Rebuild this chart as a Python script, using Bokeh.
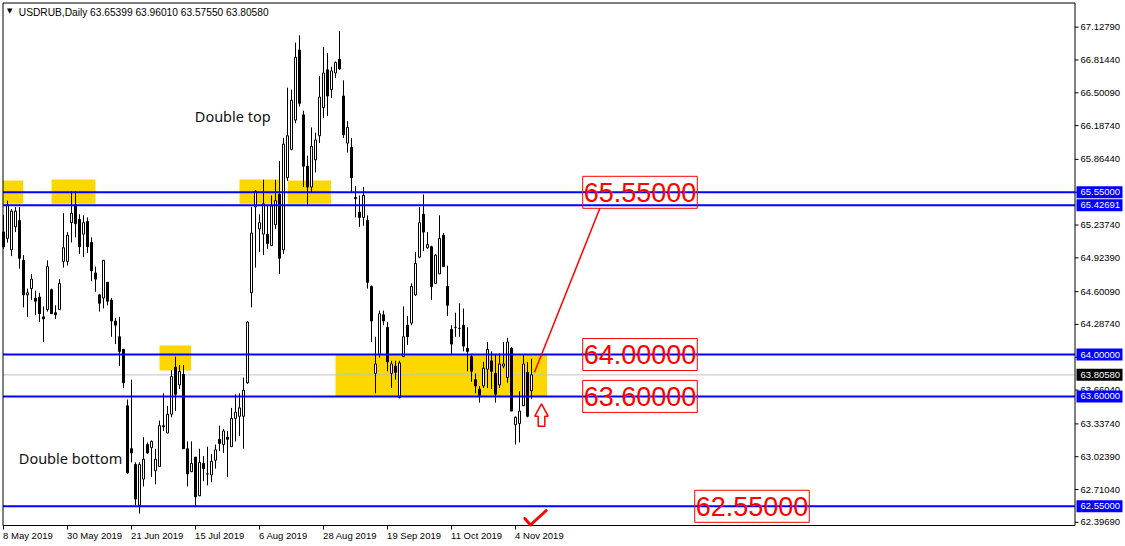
from bokeh.plotting import figure
from bokeh.models import ColumnDataSource, Range1d
from bokeh.core.properties import value
from bokeh.embed import file_html
from bokeh.resources import INLINE

# ---------------- data ----------------
symbol = "USDRUB,Daily"
last_ohlc = [63.65399, 63.96010, 63.57550, 63.80580]

opens = [65.17, 65.11, 65.00, 65.22, 65.28, 64.90, 64.57, 64.63, 64.54, 64.55,
         64.36, 64.43, 64.62, 64.40, 64.43, 64.89, 64.89, 65.26, 65.43, 65.29,
         65.15, 65.27, 65.07, 64.78, 64.57, 64.54, 64.69, 64.52, 64.32, 64.17,
         64.05, 63.51, 63.10, 62.95, 62.56, 62.81, 63.14, 63.11, 62.89, 62.93,
         63.32, 63.25, 63.43, 63.88, 63.71, 63.81, 63.10, 62.88, 63.02, 62.65,
         62.96, 62.86, 62.85, 62.99, 63.19, 63.14, 63.21, 63.12, 63.39, 63.41,
         63.41, 63.73, 64.59, 65.41, 65.20, 65.15, 65.15, 65.04, 65.24, 65.53,
         65.00, 65.69, 65.96, 66.24, 66.91, 66.29, 65.80, 65.60, 65.86, 66.09,
         66.36, 66.72, 66.53, 66.69, 66.82, 66.47, 66.02, 65.98, 65.50, 65.36,
         65.31, 65.28, 64.65, 63.82, 64.00, 64.38, 64.26, 63.82, 63.89, 63.59,
         63.98, 64.28, 64.30, 64.57, 64.93, 65.34, 65.02, 65.03, 64.68, 64.77,
         65.14, 64.65, 64.24, 64.26, 64.25, 64.28, 64.06, 63.98, 63.76, 63.67,
         63.70, 63.86, 63.94, 63.82, 63.71, 63.89, 63.78, 64.06, 63.33, 63.34,
         63.51, 63.83, 63.654]
highs = [65.33, 65.47, 65.39, 65.41, 65.41, 64.95, 64.63, 64.77, 64.61, 64.59,
         64.46, 64.90, 64.63, 64.47, 64.72, 65.35, 65.17, 65.56, 65.56, 65.34,
         65.33, 65.31, 65.12, 64.84, 64.58, 64.90, 64.69, 64.54, 64.35, 64.36,
         64.05, 63.57, 63.76, 62.97, 62.97, 63.21, 63.16, 63.18, 63.10, 63.37,
         63.63, 63.51, 63.85, 63.98, 63.90, 63.90, 63.17, 63.17, 63.02, 63.10,
         63.03, 63.12, 63.05, 63.14, 63.32, 63.29, 63.27, 63.49, 63.62, 63.63,
         63.78, 64.32, 65.41, 65.57, 65.34, 65.67, 65.42, 65.52, 65.67, 65.85,
         66.07, 66.55, 66.53, 66.98, 67.05, 66.33, 65.90, 66.17, 66.12, 66.66,
         66.94, 66.88, 66.75, 66.80, 67.09, 66.62, 66.23, 66.07, 65.61, 65.52,
         65.60, 65.33, 64.66, 64.17, 64.42, 64.42, 64.31, 63.94, 63.94, 63.94,
         64.46, 64.37, 64.68, 64.98, 65.41, 65.53, 65.17, 65.04, 64.96, 65.33,
         65.16, 64.85, 64.28, 64.40, 64.49, 64.44, 64.26, 64.00, 63.82, 63.70,
         63.93, 64.12, 64.03, 64.00, 64.01, 64.12, 64.16, 64.07, 63.41, 63.65,
         64.00, 63.93, 63.960]
lows = [65.01, 65.07, 64.94, 65.17, 64.82, 64.45, 64.36, 64.52, 64.38, 64.31,
        64.12, 64.41, 64.39, 64.34, 64.43, 64.83, 64.85, 65.07, 65.12, 64.96,
        64.93, 64.97, 64.70, 64.60, 64.41, 64.44, 64.47, 64.17, 64.10, 63.89,
        63.68, 62.86, 62.97, 62.56, 62.48, 62.74, 63.05, 62.83, 62.76, 62.93,
        63.27, 63.25, 63.40, 63.46, 63.67, 63.10, 62.74, 62.88, 62.55, 62.65,
        62.79, 62.75, 62.78, 62.91, 63.08, 63.06, 62.83, 63.12, 63.17, 63.22,
        63.10, 63.72, 64.45, 64.83, 64.98, 64.95, 65.01, 65.04, 65.20, 64.77,
        64.96, 65.66, 65.95, 66.21, 66.37, 65.60, 65.42, 65.55, 65.74, 66.02,
        66.26, 66.28, 66.45, 66.64, 66.72, 66.07, 65.93, 65.55, 65.31, 65.22,
        65.23, 64.63, 64.12, 63.63, 63.97, 64.28, 63.84, 63.68, 63.76, 63.58,
        63.98, 64.09, 64.28, 64.56, 64.92, 64.99, 65.01, 64.52, 64.68, 64.77,
        64.84, 64.37, 64.00, 64.17, 64.17, 64.03, 63.84, 63.74, 63.63, 63.54,
        63.68, 63.68, 63.67, 63.54, 63.68, 63.87, 63.73, 63.46, 63.14, 63.16,
        63.51, 63.40, 63.576]
closes = [65.03, 65.43, 65.37, 65.37, 64.92, 64.57, 64.59, 64.72, 64.51, 64.39,
          64.34, 64.84, 64.39, 64.38, 64.68, 65.02, 65.14, 65.35, 65.25, 65.03,
          65.26, 65.03, 64.80, 64.72, 64.49, 64.90, 64.51, 64.32, 64.28, 64.03,
          63.73, 62.87, 63.06, 62.62, 62.95, 63.00, 63.06, 63.17, 63.00, 63.32,
          63.31, 63.43, 63.79, 63.62, 63.84, 63.10, 62.86, 62.96, 62.64, 62.97,
          62.91, 62.86, 62.98, 63.09, 63.15, 63.27, 63.19, 63.39, 63.45, 63.49,
          63.66, 64.31, 65.16, 65.56, 65.26, 65.44, 65.06, 65.42, 65.47, 64.92,
          66.01, 66.09, 66.43, 66.84, 66.40, 65.80, 65.60, 65.99, 66.05, 66.46,
          66.69, 66.47, 66.71, 66.79, 66.73, 66.10, 66.17, 65.69, 65.49, 65.31,
          65.52, 64.69, 64.32, 63.91, 64.39, 64.32, 63.93, 63.91, 63.83, 63.92,
          64.17, 64.17, 64.65, 64.87, 65.26, 65.17, 65.05, 64.65, 64.95, 65.11,
          64.84, 64.47, 64.10, 64.26, 64.25, 64.08, 64.03, 63.84, 63.70, 63.61,
          63.87, 64.05, 63.84, 63.62, 63.91, 63.91, 64.12, 63.46, 63.40, 63.46,
          63.91, 63.41, 63.806]

date_ticks = [0, 16, 32, 48, 64, 80, 96, 112, 128]
date_labels = ["8 May 2019", "30 May 2019", "21 Jun 2019", "15 Jul 2019",
               "6 Aug 2019", "28 Aug 2019", "19 Sep 2019", "11 Oct 2019", "4 Nov 2019"]

price_ticks = [67.1279, 66.8144, 66.5009, 66.1874, 65.8644, 65.5509, 65.2374,
               64.9239, 64.6009, 64.2874, 63.9739, 63.6604, 63.3374, 63.0239,
               62.7104, 62.3969]

levels = [65.55, 65.42691, 64.00, 63.60, 62.55]
current_price = last_ohlc[3]

# highlighted zones: first bar, last bar, low price, high price
zone_start = [-0.2, 12.0, 59.0, 71.1, 39.0, 83.0]
zone_end = [4.93, 23.0, 69.25, 81.9, 46.9, 135.9]
zone_low = [65.44, 65.44, 65.44, 65.44, 63.848, 63.60]
zone_high = [65.663, 65.672, 65.672, 65.663, 64.086, 64.00]

callout_levels = [65.55, 64.00, 63.60, 62.55]
callout_start = [144.8, 144.8, 144.8, 172.8]

# ---------------- layout helpers (page pixels -> data) ----------------
W, H = 1125, 546
def bx(px):           # horizontal pixel -> bar index
    return (px - 3.0) / 4.0
def pr(py):           # vertical pixel -> price
    return 65.55 - (py - 191.8) / 104.67

FONT = "Liberation Sans"
p = figure(width=W, height=H, x_range=Range1d(bx(0), bx(W)), y_range=Range1d(pr(H), pr(0)),
           output_backend="svg", toolbar_location=None,
           x_axis_location=None, y_axis_location=None,
           min_border_left=0, min_border_top=0, min_border_right=0, min_border_bottom=0)
p.grid.visible = False
p.outline_line_color = None
p.background_fill_color = "white"
p.border_fill_color = "white"

L_, R_, T_, B_ = bx(2.5), bx(1074.5), pr(2.5), pr(525.0)

# zones
p.quad(left=zone_start, right=zone_end, bottom=zone_low, top=zone_high,
       fill_color="#FFD700", line_color=None)

# current price line
p.segment(x0=[L_], x1=[R_], y0=[current_price], y1=[current_price],
          line_color="#C0C0C0", line_width=1)

# candles
idx = list(range(len(opens)))
src = ColumnDataSource(dict(
    x=idx, o=opens, h=highs, l=lows, c=closes,
    top=[max(o, c) for o, c in zip(opens, closes)],
    bottom=[min(o, c) for o, c in zip(opens, closes)],
    fill=["white" if c >= o else "black" for o, c in zip(opens, closes)],
))
p.segment(x0="x", y0="l", x1="x", y1="h", source=src, line_color="black", line_width=1)
p.vbar(x="x", width=0.5, top="top", bottom="bottom", fill_color="fill",
       line_color="black", line_width=1, source=src)

# level lines
p.segment(x0=[L_] * len(levels), x1=[R_] * len(levels), y0=levels, y1=levels,
          line_color="#0000FF", line_width=2)

# chart frame and axes lines
p.line(x=[R_, L_, L_, R_, R_], y=[T_, T_, B_, B_, T_], line_color="black", line_width=1)

# callout boxes
half_h = 16 / 104.67
box_w = 28.65
p.quad(left=callout_start, right=[s + box_w for s in callout_start],
       bottom=[v - half_h for v in callout_levels], top=[v + half_h for v in callout_levels],
       fill_color=None, line_color="red", line_width=1)
p.text(x=[s + box_w / 2 for s in callout_start], y=callout_levels,
       text=[f"{v:.5f}" for v in callout_levels], text_align="center", text_baseline="middle",
       text_color="red", text_font=value(FONT), text_font_size="27px")

# projection line from last candle to target box
last = len(closes) - 1
p.line(x=[last + 0.75, 149.1], y=[closes[-1] + 0.025, callout_levels[0] - half_h],
       line_color="red", line_width=1.5)

# up arrow
cx, tip, base, bot = 134.5, 63.529, 63.411, 63.315
hw, sw = 1.67, 0.83
p.patch(x=[cx, cx + hw, cx + sw, cx + sw, cx - sw, cx - sw, cx - hw],
        y=[tip, base, base, bot, bot, base, base],
        fill_color="white", line_color="red", line_width=1.5)

# check mark
p.line(x=[bx(524.3), bx(530.0), bx(545.7)], y=[pr(518.0), pr(524.5), pr(510.0)],
       line_color="red", line_width=3, line_join="round", line_cap="round")

# pattern labels
p.text(x=[bx(194.3), bx(18.3)], y=[pr(115.0), pr(457.5)], text=["Double top", "Double bottom"],
       text_align="left", text_baseline="alphabetic", text_color="#111111",
       text_font=value("Noto Sans"), text_font_size="14.5px")

# header
p.text(x=[bx(9.3)], y=[pr(10.0)], text=["\u25BC"], text_align="center", text_baseline="middle",
       text_color="black", text_font=value("DejaVu Sans"), text_font_size="7px")
p.text(x=[bx(18.3)], y=[pr(11.5)],
       text=[symbol + "  " + " ".join(f"{v:.5f}" for v in last_ohlc)],
       text_align="left", text_baseline="alphabetic", text_color="black",
       text_font=value(FONT), text_font_size="10.2px")

# price axis: ticks and labels
p.segment(x0=[R_] * len(price_ticks), x1=[bx(1078.0)] * len(price_ticks),
          y0=price_ticks, y1=price_ticks, line_color="black", line_width=1)
p.text(x=[bx(1080.0)] * len(price_ticks), y=price_ticks,
       text=[f"{v:.5f}" for v in price_ticks], text_align="left", text_baseline="middle",
       text_color="black", text_font=value(FONT), text_font_size="9.5px")

# price tags on the axis
tag_vals = levels + [current_price]
tag_cols = ["#0000FF"] * len(levels) + ["black"]
tag_h = 6 / 104.67
p.quad(left=[bx(1076.0)] * len(tag_vals), right=[bx(1122.0)] * len(tag_vals),
       bottom=[v - tag_h for v in tag_vals], top=[v + tag_h for v in tag_vals],
       fill_color=tag_cols, line_color=None)
p.text(x=[bx(1080.0)] * len(tag_vals), y=tag_vals, text=[f"{v:.5f}" for v in tag_vals],
       text_align="left", text_baseline="middle", text_color="white",
       text_font=value(FONT), text_font_size="9.5px")

# time axis: ticks and labels
p.segment(x0=date_ticks, x1=date_ticks, y0=[B_] * len(date_ticks),
          y1=[pr(529.0)] * len(date_ticks), line_color="black", line_width=1)
p.text(x=[t - 0.1 for t in date_ticks], y=[pr(534.8)] * len(date_ticks), text=date_labels,
       text_align="left", text_baseline="alphabetic", text_color="black",
       text_font=value(FONT), text_font_size="9.5px")

open("out.html", "w").write(file_html(p, INLINE))
